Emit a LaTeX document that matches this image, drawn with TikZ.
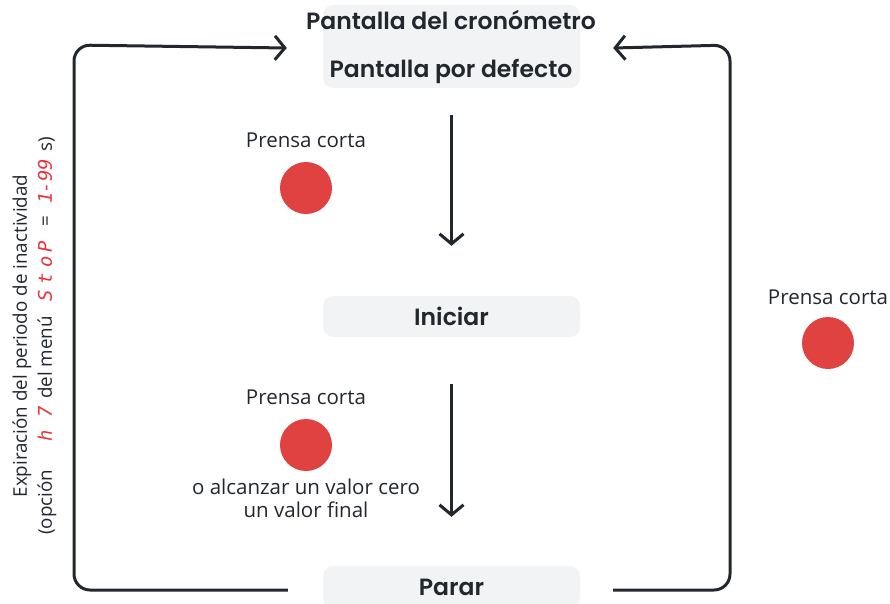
\documentclass[tikz,border=0pt]{standalone}
\usepackage{fontspec}
\setmainfont{Open Sans}
\newfontfamily\popfont{Poppins}[BoldFont={Poppins SemiBold}]
\newfontfamily\segfont{DejaVu Sans Mono}
\usepackage{xcolor}
\usetikzlibrary{positioning, arrows.meta}
\definecolor{boxgray}{HTML}{F2F3F5}
\definecolor{linedark}{HTML}{22272E}
\definecolor{pressred}{HTML}{E04141}
\definecolor{segred}{HTML}{E8333A}

\tikzset{
  statebox/.style={fill=boxgray, rounded corners=10pt, minimum width=257pt,
    font=\popfont\bfseries\fontsize{23.5}{28}\selectfont, text=linedark},
  flow/.style={linedark, line width=3pt, -{Straight Barb[length=10pt, width=24pt, line width=3pt]}},
  loopline/.style={flow, rounded corners=16pt},
  press/.style={circle, fill=pressred, minimum size=52pt, inner sep=0pt},
  lbl/.style={font=\fontsize{20.5}{23}\selectfont, text=linedark, align=center}
}
% seven-segment style menu characters
\newcommand{\seg}[1]{{\segfont\itshape\textcolor{segred}{#1}}}

\begin{document}
\begin{tikzpicture}[x=1pt, y=-1pt]
  \useasboundingbox (0,0) rectangle (890,603);

  % states
  \node[statebox, minimum height=83pt] (display) at (451.5,46.5) {};
  \node[statebox, fill=none, anchor=base] at (451,29) {Pantalla del cronómetro};
  \node[statebox, fill=none, anchor=base] at (451,77) {Pantalla por defecto};
  \node[statebox, minimum height=41pt] (start) at (451.5,316.5) {Iniciar};
  \node[statebox, minimum height=42pt] (stop) at (451.5,587) {Parar};

  % presses
  \node[lbl] (p1) at (306,140) {Prensa corta};
  \node[press] (c1) at (306,188) {};
  \node[lbl] (p2) at (306,397) {Prensa corta};
  \node[press] (c2) at (306,445) {};
  \node[lbl, below=4pt of c2] (p2b) {o alcanzar un valor cero\\un valor final};
  \node[lbl] (p3) at (828,297) {Prensa corta};
  \node[press] (c3) at (828,343) {};

  % timeout note
  \node[lbl, rotate=90, font=\fontsize{18.8}{25}\selectfont] (note) at (34.5,336)
    {Expiración del periodo de inactividad\\
     (opción\hspace{28pt}\seg{h}\hspace{13pt}\seg{7}\hspace{7pt}del menú\hspace{15pt}%
     \seg{S}\hspace{5pt}\seg{t}\hspace{6pt}\seg{o}\hspace{4pt}\seg{P}\hspace{14pt}=\hspace{13pt}%
     \seg{1}\hspace{-2pt}\seg{-}\hspace{1pt}\seg{9}\seg{9}\hspace{7pt}s)};

  % transitions
  \draw[flow] ([yshift=-27pt]display.south) -- ([yshift=50pt]start.north);
  \draw[flow] ([yshift=-47pt]start.south) -- ([yshift=49pt]stop.north);
  \draw[loopline] ([xshift=-35pt, yshift=-3pt]stop.west) -| (74,45)
    -- ([xshift=-36pt, yshift=-1.5pt]display.west);
  \draw[loopline] ([xshift=33pt, yshift=-3pt]stop.east) -| (730,45)
    -- ([xshift=33pt, yshift=-1.5pt]display.east);
\end{tikzpicture}
\end{document}
